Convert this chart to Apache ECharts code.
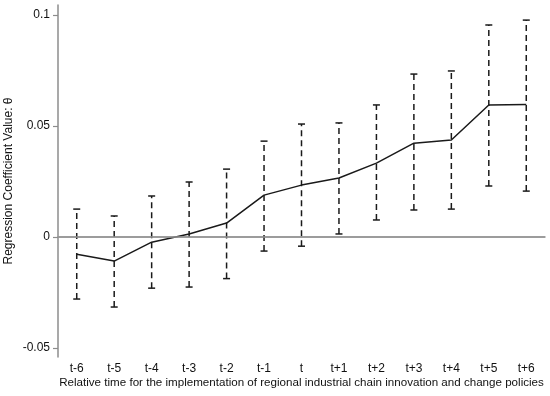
<!DOCTYPE html>
<html>
<head>
<meta charset="utf-8">
<script src="https://cdn.jsdelivr.net/npm/echarts@6/dist/echarts.min.js"></script>
<style>
  html, body { margin: 0; padding: 0; background: #fff; }
  #chart { width: 550px; height: 396px; }
</style>
</head>
<body>
<div id="chart"></div>
<script>
// 事件研究图数据
const periods = ['t-6', 't-5', 't-4', 't-3', 't-2', 't-1', 't', 't+1', 't+2', 't+3', 't+4', 't+5', 't+6'];
const coef = [-0.0077, -0.0108, -0.0023, 0.0014, 0.0063, 0.0189, 0.0234, 0.0266, 0.0333, 0.0423, 0.0437, 0.0595, 0.0597];
const upper = [0.0126, 0.0095, 0.0185, 0.0248, 0.0306, 0.0432, 0.0509, 0.0514, 0.0595, 0.0734, 0.0748, 0.0955, 0.0977];
const lower = [-0.0279, -0.0315, -0.0230, -0.0225, -0.0187, -0.0063, -0.0041, 0.0014, 0.0077, 0.0122, 0.0126, 0.0230, 0.0207];
const yTicks = [-0.05, 0, 0.05, 0.1];

const chart = echarts.init(document.getElementById('chart'));
const font = 'Liberation Sans, Arial, sans-serif';
const axisGray = '#8c8c8c';

const ciData = periods.map((p, i) => [i, lower[i], upper[i]]);

const option = {
    animation: false,
    grid: { left: 58, right: 5, top: 5, bottom: 39, outerBoundsMode: 'none', containLabel: false },
    xAxis: {
        type: 'category',
        data: periods,
        boundaryGap: true,
        name: 'Relative time for the implementation of regional industrial chain innovation and change policies',
        nameLocation: 'middle',
        nameGap: 20,
        nameMoveOverlap: false,
        nameTextStyle: { fontFamily: font, fontSize: 11.6, color: '#111' },
        axisLine: { lineStyle: { color: axisGray, width: 1.5 } },
        axisTick: { alignWithLabel: true, length: 5, lineStyle: { color: axisGray, width: 1.2 } },
        axisLabel: { fontFamily: font, fontSize: 12, color: '#111', margin: 6 }
    },
    yAxis: {
        type: 'value',
        min: -0.054,
        max: 0.1045,
        name: 'Regression Coefficient Value: θ',
        nameLocation: 'middle',
        nameGap: 43,
        nameMoveOverlap: false,
        nameTextStyle: { fontFamily: font, fontSize: 12, color: '#111' },
        splitLine: { show: false },
        axisLine: { show: true, lineStyle: { color: axisGray, width: 1.5 } },
        axisTick: { show: true, length: 5, customValues: yTicks, lineStyle: { color: axisGray, width: 1.2 } },
        axisLabel: {
            fontFamily: font, fontSize: 12, color: '#111', margin: 8,
            customValues: yTicks,
            formatter: v => String(Math.round(v * 100) / 100)
        }
    },
    series: [
        {
            type: 'custom',
            data: ciData,
            renderItem: function (params, api) {
                const x = api.value(0);
                const lo = api.coord([x, api.value(1)]);
                const hi = api.coord([x, api.value(2)]);
                const cap = 3.5;
                const st = { stroke: '#1a1a1a', lineWidth: 1.5 };
                return {
                    type: 'group',
                    children: [
                        { type: 'line', shape: { x1: lo[0], y1: lo[1], x2: hi[0], y2: hi[1] },
                          style: Object.assign({ lineDash: [6, 4] }, st) },
                        { type: 'line', shape: { x1: hi[0] - cap, y1: hi[1], x2: hi[0] + cap, y2: hi[1] }, style: st },
                        { type: 'line', shape: { x1: lo[0] - cap, y1: lo[1], x2: lo[0] + cap, y2: lo[1] }, style: st }
                    ]
                };
            },
            z: 3
        },
        {
            type: 'line',
            data: coef,
            symbol: 'none',
            lineStyle: { color: '#1a1a1a', width: 1.5 },
            markLine: {
                silent: true,
                symbol: 'none',
                label: { show: false },
                lineStyle: { color: '#999', width: 1.5, type: 'solid' },
                data: [{ yAxis: 0 }]
            },
            z: 4
        }
    ]
};

chart.setOption(option);
</script>
</body>
</html>
